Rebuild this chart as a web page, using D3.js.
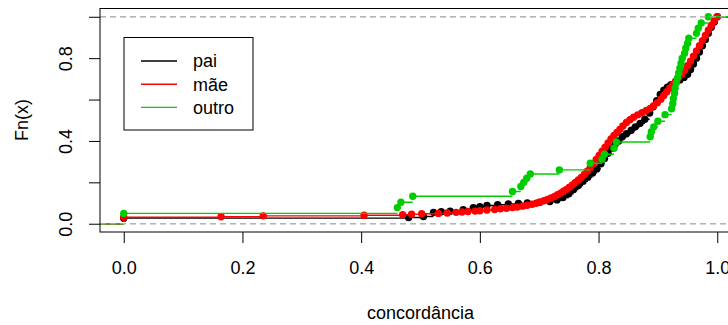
<!DOCTYPE html>
<html lang="pt">
  <head>
    <meta charset="utf-8">
    <title>ecdf concordância</title>
    <script src="https://d3js.org/d3.v7.min.js"></script>
    <style media="screen">
      body{
        margin: 0;
        background: #fff;
      }
      svg text{
        font-family: "Liberation Sans", Arial, sans-serif;
        fill: #000;
      }
    </style>
  </head>
  <body>
    <script type="text/javascript">

      // knots of each empirical cdf: [concordância, Fn(x)]
      let pai = [[0,0.027],[0.48,0.030],[0.505,0.035],[0.522,0.055],[0.535,0.058],[0.55,0.060],
                 [0.572,0.068],[0.589,0.077],[0.60,0.082],[0.612,0.088],[0.63,0.092],[0.648,0.095],
                 [0.665,0.098],[0.68,0.100],[0.70,0.103],[0.718,0.107],[0.73,0.115],[0.74,0.127],
                 [0.75,0.145],[0.758,0.165],[0.766,0.185],[0.774,0.205],[0.782,0.225],[0.79,0.245],
                 [0.797,0.265],[0.804,0.29],[0.81,0.315],[0.816,0.34],[0.822,0.365],[0.828,0.385],
                 [0.834,0.40],[0.84,0.42],[0.847,0.435],[0.855,0.452],[0.862,0.468],[0.87,0.485],
                 [0.878,0.505],[0.886,0.535],[0.892,0.565],[0.898,0.595],[0.904,0.625],[0.91,0.645],
                 [0.916,0.66],[0.922,0.672],[0.93,0.684],[0.937,0.695],[0.944,0.707],[0.95,0.722],
                 [0.955,0.745],[0.96,0.772],[0.965,0.80],[0.97,0.83],[0.975,0.86],[0.98,0.89],
                 [0.985,0.92],[0.99,0.95],[0.995,0.975],[1.0,1.0]];

      let mae = [[0,0.031],[0.164,0.034],[0.235,0.038],[0.405,0.041],[0.470,0.043],[0.485,0.046],
                 [0.502,0.048],[0.530,0.050],[0.545,0.052],[0.560,0.055],[0.570,0.057],[0.580,0.059],
                 [0.592,0.061],[0.600,0.063],[0.612,0.066],[0.625,0.069],[0.635,0.072],[0.645,0.075],
                 [0.655,0.078],[0.663,0.081],[0.672,0.085],[0.680,0.089],[0.688,0.094],[0.695,0.099],
                 [0.702,0.105],[0.708,0.111],[0.714,0.117],[0.720,0.124],[0.726,0.132],[0.731,0.140],
                 [0.736,0.148],[0.741,0.157],[0.746,0.166],[0.751,0.176],[0.756,0.187],[0.761,0.199],
                 [0.766,0.211],[0.771,0.224],[0.776,0.238],[0.781,0.254],[0.786,0.271],[0.791,0.290],
                 [0.796,0.310],[0.801,0.330],[0.806,0.350],[0.811,0.370],[0.816,0.390],[0.821,0.410],
                 [0.826,0.426],[0.831,0.441],[0.836,0.456],[0.841,0.472],[0.847,0.489],[0.853,0.503],
                 [0.859,0.515],[0.866,0.526],[0.873,0.536],[0.880,0.546],[0.887,0.557],[0.893,0.570],
                 [0.899,0.585],[0.905,0.602],[0.910,0.620],[0.915,0.638],[0.920,0.655],[0.925,0.672],
                 [0.930,0.689],[0.935,0.706],[0.940,0.722],[0.945,0.742],[0.950,0.763],[0.955,0.785],
                 [0.960,0.810],[0.965,0.835],[0.970,0.860],[0.975,0.885],[0.980,0.910],[0.985,0.935],
                 [0.990,0.958],[0.995,0.980],[1.000,1.000]];

      let outro = [[0,0.050],[0.461,0.078],[0.467,0.104],[0.487,0.133],[0.655,0.156],[0.669,0.180],
                   [0.674,0.200],[0.679,0.220],[0.685,0.240],[0.734,0.260],[0.786,0.292],[0.806,0.312],
                   [0.810,0.336],[0.826,0.365],[0.830,0.395],[0.887,0.420],[0.889,0.445],[0.893,0.468],
                   [0.900,0.495],[0.912,0.527],[0.923,0.555],[0.925,0.580],[0.926,0.605],[0.928,0.630],
                   [0.929,0.655],[0.931,0.680],[0.933,0.704],[0.935,0.728],[0.937,0.752],[0.939,0.776],
                   [0.941,0.800],[0.945,0.824],[0.947,0.848],[0.950,0.872],[0.952,0.896],[0.965,0.920],
                   [0.968,0.945],[0.973,0.970],[0.985,1.000]];

      let seriesNames = ["pai", "mãe", "outro"];
      let seriesColors = ["#000000", "#ff0000", "#00cd00"];
      let xTicks = [0, 0.2, 0.4, 0.6, 0.8, 1.0];
      let yTicks = [0, 0.2, 0.4, 0.6, 0.8, 1.0];
      let yTickLabels = ["0.0", "", "0.4", "", "0.8", ""];

      let width = 728, height = 325;
      let box = {left: 100, top: 8.5, right: 741, bottom: 232};

      let x = d3.scaleLinear().domain([-0.04, 1.04]).range([box.left, box.right]);
      let y = d3.scaleLinear().domain([-0.04, 1.04]).range([box.bottom, box.top]);

      let svg = d3.select("body").append("svg")
                  .attr("width", width)
                  .attr("height", height);

      svg.append("clipPath").attr("id", "plotclip")
         .append("rect")
         .attr("x", box.left).attr("y", box.top)
         .attr("width", box.right - box.left).attr("height", box.bottom - box.top);

      let plot = svg.append("g").attr("clip-path", "url(#plotclip)");

      function zeroOneLines(){
        plot.selectAll(null)
            .data([0, 1])
            .enter().append("line")
            .attr("x1", box.left).attr("x2", box.right)
            .attr("y1", d => y(d)).attr("y2", d => y(d))
            .attr("stroke", "#b3b3b3")
            .attr("stroke-width", 1)
            .attr("stroke-dasharray", "6,4");
      }

      [pai, mae, outro].forEach(function(knots, i){
        let col = seriesColors[i];
        // horizontal steps, including the tails at 0 and 1
        let ends = [[-0.04, 0]].concat(knots).concat([[1.04, 1]]);
        let steps = d3.pairs(ends);
        plot.selectAll(null)
            .data(steps)
            .enter().append("line")
            .attr("x1", d => x(d[0][0]))
            .attr("x2", d => x(d[1][0]))
            .attr("y1", d => y(d[0][1]))
            .attr("y2", d => y(d[0][1]))
            .attr("stroke", col)
            .attr("stroke-width", 1.4);

        plot.selectAll(null)
            .data(knots)
            .enter().append("circle")
            .attr("cx", d => x(d[0]))
            .attr("cy", d => y(d[1]))
            .attr("r", 3.7)
            .attr("fill", col);

        zeroOneLines();
      });

      // box round the plot region
      svg.append("rect")
         .attr("x", box.left).attr("y", box.top)
         .attr("width", box.right - box.left).attr("height", box.bottom - box.top)
         .attr("fill", "none").attr("stroke", "#000").attr("stroke-width", 1);

      let xAxis = svg.append("g")
                     .attr("transform", "translate(0," + box.bottom + ")")
                     .call(d3.axisBottom(x).tickValues(xTicks).tickSize(11).tickSizeOuter(0)
                                           .tickFormat(d3.format(".1f")));
      xAxis.select(".domain").remove();
      xAxis.selectAll("line").attr("stroke", "#000");
      xAxis.selectAll("text")
           .attr("y", 36).attr("dy", "0.35em")
           .attr("font-size", 18)
           .attr("font-family", null);

      let yAxis = svg.append("g")
                     .attr("transform", "translate(" + box.left + ",0)")
                     .call(d3.axisLeft(y).tickValues(yTicks).tickSize(11).tickSizeOuter(0)
                                         .tickFormat((d, i) => yTickLabels[i]));
      yAxis.select(".domain").remove();
      yAxis.selectAll("line").attr("stroke", "#000");
      yAxis.selectAll("text")
           .attr("transform", "rotate(-90)")
           .attr("x", 0).attr("y", -34).attr("dy", "0.35em")
           .attr("text-anchor", "middle")
           .attr("font-size", 18)
           .attr("font-family", null);

      svg.append("text")
         .attr("x", (box.left + box.right) / 2).attr("y", 313).attr("dy", "0.35em")
         .attr("text-anchor", "middle")
         .attr("font-size", 18)
         .text("concordância");

      svg.append("text")
         .attr("transform", "translate(22,120) rotate(-90)")
         .attr("dy", "0.35em")
         .attr("text-anchor", "middle")
         .attr("font-size", 18)
         .text("Fn(x)");

      // legend
      let legend = svg.append("g");
      legend.append("rect")
            .attr("x", 124).attr("y", 37.5).attr("width", 129).attr("height", 92.5)
            .attr("fill", "#fff").attr("stroke", "#000").attr("stroke-width", 1);

      let rows = legend.selectAll(".row")
                       .data(seriesNames)
                       .enter().append("g")
                       .attr("class", "row")
                       .attr("transform", (d, i) => "translate(0," + (61 + i * 23.2) + ")");
      rows.append("line")
          .attr("x1", 141).attr("x2", 177)
          .attr("stroke", (d, i) => seriesColors[i])
          .attr("stroke-width", 1.4);
      rows.append("text")
          .attr("x", 193).attr("dy", "0.35em")
          .attr("font-size", 18)
          .text(d => d);

    </script>
  </body>
</html>
